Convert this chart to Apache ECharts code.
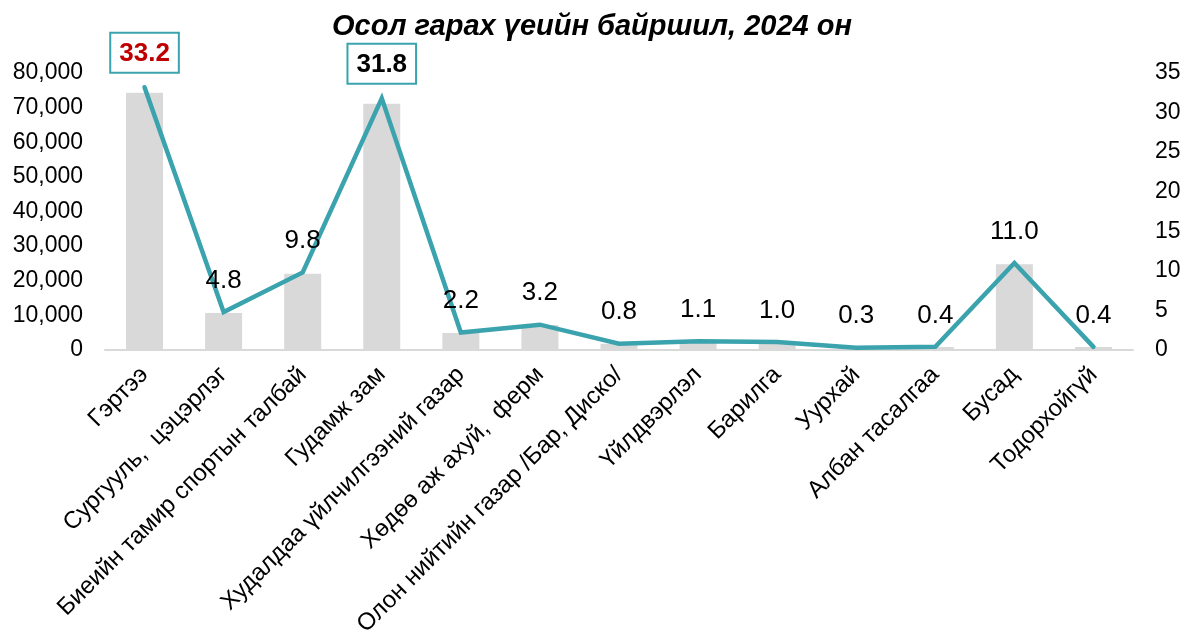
<!DOCTYPE html>
<html><head><meta charset="utf-8">
<script src="https://cdn.jsdelivr.net/npm/echarts@6/dist/echarts.min.js"></script>
<style>html,body{margin:0;padding:0;background:#fff}#c{width:1184px;height:634px}</style>
</head><body><div id="c"></div>
<script>
const categories = ["Гэртээ","Сургууль,  цэцэрлэг","Биеийн тамир спортын талбай","Гудамж зам","Худалдаа үйлчилгээний газар","Хөдөө аж ахуй,  ферм","Олон нийтийн газар /Бар, Диско/","Үйлдвэрлэл","Барилга","Уурхай","Албан тасалгаа","Бусад","Тодорхойгүй"];
const counts = [74300, 10700, 22000, 71100, 4900, 7200, 1800, 2500, 2200, 700, 900, 24800, 900];
const percents = [33.2, 4.8, 9.8, 31.8, 2.2, 3.2, 0.8, 1.1, 1.0, 0.3, 0.4, 11.0, 0.4];
const leftTicks = [0, 80000, 10000];
const rightTicks = [0, 35, 5];
const title = "Осол гарах үеийн байршил, 2024 он";

const FONT = "'Liberation Sans', Arial, sans-serif";
const TEAL = '#3ba3ad';
const highlight = {0: '#c00000', 3: '#000000'};
const lineData = percents.map((v, i) => {
  if (highlight[i] !== undefined) {
    return {value: v, label: {fontWeight: 'bold', color: highlight[i], borderColor: TEAL, borderWidth: 2, backgroundColor: '#fff', padding: [7, 8, 5, 8], distance: 15}};
  }
  return v;
});

const chart = echarts.init(document.getElementById('c'), null, {renderer: 'canvas'});
chart.setOption({
  animation: false,
  title: {text: title, left: 'center', top: 7, textStyle: {fontFamily: FONT, fontSize: 29, fontWeight: 'bold', fontStyle: 'italic', color: '#000'}},
  grid: {left: 105, right: 51, top: 73, bottom: 284, containLabel: false, outerBoundsMode: 'none'},
  xAxis: {
    type: 'category', data: categories,
    axisLine: {lineStyle: {color: '#d9d9d9', width: 2}},
    axisTick: {show: false},
    axisLabel: {rotate: 45, interval: 0, fontFamily: FONT, fontSize: 24, color: '#000', margin: 21}
  },
  yAxis: [
    {type: 'value', min: leftTicks[0], max: leftTicks[1], interval: leftTicks[2], splitLine: {show: false}, axisLine: {show: false}, axisTick: {show: false},
     axisLabel: {fontFamily: FONT, fontSize: 23, color: '#000', margin: 22, formatter: v => v.toLocaleString('en-US')}},
    {type: 'value', min: rightTicks[0], max: rightTicks[1], interval: rightTicks[2], splitLine: {show: false}, axisLine: {show: false}, axisTick: {show: false},
     axisLabel: {fontFamily: FONT, fontSize: 23, color: '#000', margin: 22}}
  ],
  series: [
    {type: 'bar', data: counts, yAxisIndex: 0, barWidth: 37, itemStyle: {color: '#d9d9d9'}},
    {type: 'line', data: lineData, yAxisIndex: 1, symbol: 'circle', symbolSize: 1, showSymbol: true, itemStyle: {color: 'rgba(0,0,0,0)'},
     lineStyle: {color: TEAL, width: 4.5, cap: 'round', join: 'miter'},
     label: {show: true, position: 'top', distance: 18, fontFamily: FONT, fontSize: 26, color: '#000',
       formatter: p => Number(p.value).toFixed(1)}}
  ]
});
</script></body></html>
